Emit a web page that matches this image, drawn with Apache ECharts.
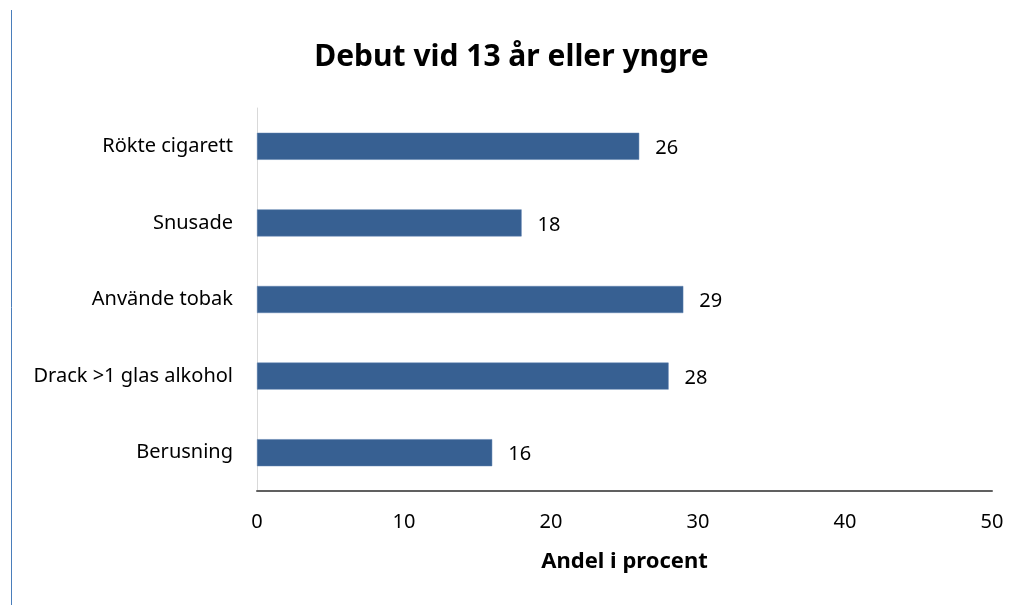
<!DOCTYPE html>
<html>
<head>
<meta charset="utf-8">
<script src="https://cdn.jsdelivr.net/npm/echarts@6/dist/echarts.min.js"></script>
<style>
  html, body { margin: 0; padding: 0; background: #fff; }
  #chart { width: 1023px; height: 605px; }
</style>
</head>
<body>
<div id="chart"></div>
<script>
// categories top to bottom
const categories = ['Rökte cigarett', 'Snusade', 'Använde tobak', 'Drack >1 glas alkohol', 'Berusning'];
const values = [26, 18, 29, 28, 16];
const xTicks = [0, 10, 20, 30, 40, 50];

const font = 'Noto Sans';
let chart = echarts.init(document.getElementById('chart'));
let option = {
  backgroundColor: '#fff',
  title: {
    text: 'Debut vid 13 år eller yngre',
    left: 'center',
    top: 37,
    textStyle: { fontFamily: font, fontSize: 30, fontWeight: 'bold', color: '#000' }
  },
  graphic: [{
    type: 'line',
    shape: { x1: 11.5, y1: 10, x2: 11.5, y2: 605 },
    style: { stroke: '#4a7ebb', lineWidth: 1 }
  }],
  grid: { left: 257, right: 31, top: 108, bottom: 114 },
  xAxis: {
    type: 'value',
    min: xTicks[0],
    max: xTicks[xTicks.length - 1],
    interval: 10,
    name: 'Andel i procent',
    nameLocation: 'middle',
    nameGap: 60,
    nameTextStyle: { fontFamily: font, fontSize: 22, fontWeight: 'bold', color: '#000' },
    axisLine: { show: true, lineStyle: { color: '#606060', width: 2 } },
    axisTick: { show: false },
    splitLine: { show: false },
    axisLabel: { fontFamily: font, fontSize: 20, color: '#000', margin: 21 }
  },
  yAxis: {
    type: 'category',
    data: categories,
    inverse: true,
    axisLine: { show: true, lineStyle: { color: '#d9d9d9', width: 1 } },
    axisTick: { show: false },
    axisLabel: { fontFamily: font, fontSize: 20, color: '#000', margin: 24, padding: [3, 0, 0, 0] }
  },
  series: [{
    type: 'bar',
    data: values,
    barWidth: 27,
    itemStyle: { color: '#376092', borderColor: '#5b7fae', borderWidth: 0.5 },
    label: {
      show: true,
      position: 'right',
      distance: 16,
      offset: [0, 2],
      fontFamily: font,
      fontSize: 20,
      color: '#000'
    }
  }]
};
chart.setOption(option);
</script>
</body>
</html>
